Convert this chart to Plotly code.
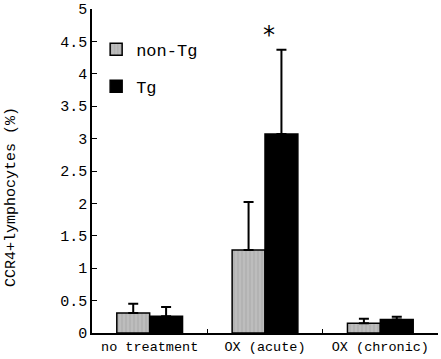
import plotly.graph_objects as go

categories = ["no treatment", "OX (acute)", "OX (chronic)"]
nontg_values = [0.31, 1.28, 0.15]
nontg_err = [0.14, 0.74, 0.07]
tg_values = [0.26, 3.07, 0.21]
tg_err = [0.14, 1.30, 0.04]

FONT = "Liberation Mono, DejaVu Sans Mono, monospace"

fig = go.Figure()
fig.add_trace(go.Bar(
    name="non-Tg", x=categories, y=nontg_values, legendgroup="a",
    marker=dict(color="#b8b8b8", line=dict(color="black", width=1.5),
                pattern=dict(shape="|", fgcolor="#9a9a9a", bgcolor="#bdbdbd", size=4, solidity=0.3)),
    error_y=dict(type="data", symmetric=False, array=nontg_err, arrayminus=[0, 0, 0],
                 color="black", thickness=2, width=5),
))
fig.add_trace(go.Bar(
    name="Tg", x=categories, y=tg_values, legendgroup="b",
    marker=dict(color="black", line=dict(color="black", width=1.5)),
    error_y=dict(type="data", symmetric=False, array=tg_err, arrayminus=[0, 0, 0],
                 color="black", thickness=2, width=5),
))

fig.add_annotation(x="OX (acute)", y=4.6, text="*", showarrow=False, xshift=4,
                   font=dict(family="DejaVu Sans", size=24, color="black"))

fig.add_annotation(xref="paper", x=0, xshift=-80, yref="y", y=2.1, text="CCR4+lymphocytes (%)",
                   textangle=-90, showarrow=False, xanchor="center", yanchor="middle",
                   font=dict(family=FONT, size=15, color="black"))

fig.update_layout(
    width=441, height=359,
    margin=dict(l=92, r=3, t=9, b=26),
    plot_bgcolor="white", paper_bgcolor="white",
    barmode="group", bargap=0.43, bargroupgap=0,
    font=dict(family=FONT, size=13, color="black"),
    showlegend=True,
    legend=dict(x=0.012, y=0.93, xanchor="left", yanchor="top", bgcolor="rgba(0,0,0,0)",
                font=dict(family=FONT, size=17), tracegroupgap=12, itemwidth=30),
    xaxis=dict(showline=True, linecolor="black", linewidth=1.5, ticks="inside", tickson="boundaries",
               ticklen=4, tickcolor="black", showgrid=False, tickfont=dict(family=FONT, size=13.5)),
    yaxis=dict(range=[0, 5], dtick=0.5, showline=True, linecolor="black", linewidth=1.5,
               ticks="inside", ticklen=5, tickcolor="black", showgrid=False, zeroline=False,
               tickfont=dict(family=FONT, size=15)),
)

fig.write_html("out.html", config={"displayModeBar": False},
               post_script="document.body.style.margin='0';")
